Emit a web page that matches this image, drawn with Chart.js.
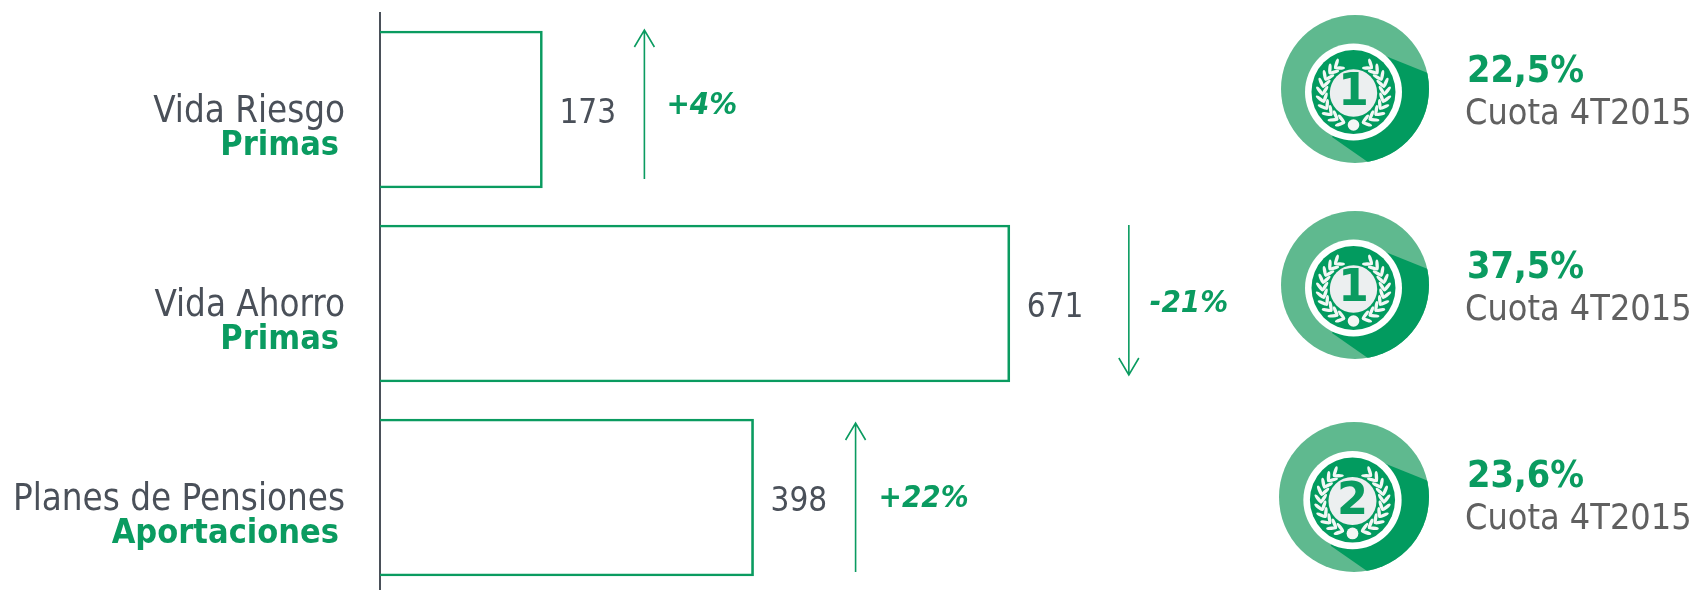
<!DOCTYPE html>
<html><head><meta charset="utf-8">
<style>html,body{margin:0;padding:0;background:#fff;width:1696px;height:590px;overflow:hidden}#w{position:relative;width:1696px;height:600px}</style>
<script src="https://cdn.jsdelivr.net/npm/chart.js@4"></script>
</head><body><div id="w"><canvas id="c"></canvas></div>
<script>
const categories=['Vida Riesgo','Vida Ahorro','Planes de Pensiones'];
const subLabels=['Primas','Primas','Aportaciones'];
const values=[173,671,398];
const changes=['+4%','-21%','+22%'];
const ranks=['1','1','2'];
const shares=['22,5%','37,5%','23,6%'];
const shareNote='Cuota 4T2015';
const GREEN='#0a9b60',DARK='#4a5059',FONT='"DejaVu Sans Condensed","DejaVu Sans"';

function medal(ctx,cx,cy,r,rank){
  const k=r/74;
  ctx.save();ctx.translate(cx,cy);ctx.scale(k,k);
  ctx.beginPath();ctx.arc(0,0,74,0,7);ctx.fillStyle='#5fb98f';ctx.fill();
  ctx.save();ctx.beginPath();ctx.arc(0,0,74,0,7);ctx.clip();
  ctx.beginPath();ctx.moveTo(28,-34);ctx.lineTo(80,-13);ctx.lineTo(90,90);ctx.lineTo(20,78);ctx.lineTo(-23,48);ctx.closePath();
  ctx.fillStyle='#029b5f';ctx.fill();ctx.restore();
  const ox=-1.5,oy=3;
  ctx.beginPath();ctx.arc(ox,oy,48.5,0,7);ctx.fillStyle='#fff';ctx.fill();
  ctx.beginPath();ctx.arc(ox,oy,42,0,7);ctx.fillStyle='#029b5f';ctx.fill();
  ctx.beginPath();ctx.arc(ox,oy+1,23.7,0,7);ctx.fillStyle='#eceff0';ctx.fill();
  ctx.fillStyle='#f3f7f5';
  for(const s of [-1,1]){
    for(let i=0;i<10;i++){
      const a=(Math.PI/2)-s*(0.3+i*0.245),R=31;
      const x=ox+R*Math.cos(a),y=oy+1+R*Math.sin(a);
      for(const d of [-1,1]){
        ctx.save();ctx.translate(x,y);ctx.rotate(a-s*Math.PI/2+d*s*0.62);
        ctx.beginPath();ctx.ellipse(4.5,0,5.4,1.7,0,0,7);ctx.fill();ctx.restore();
      }
    }
  }
  ctx.beginPath();ctx.arc(ox,oy+33,5.8,0,7);ctx.fill();
  ctx.fillStyle=GREEN;ctx.font='bold 44px "DejaVu Sans"';ctx.textAlign='center';ctx.textBaseline='middle';
  ctx.fillText(rank,ox,oy+2);
  ctx.restore();
}

const extras={id:'extras',afterDatasetsDraw(chart){
  const ctx=chart.ctx,y=chart.scales.y,bars=chart.getDatasetMeta(0).data;
  const arrowGap=[102,119,102],arrowTop=[30,225,423],arrowBot=[179,375,572],dirs=[-1,1,-1];
  const pctGap=[124,140,125],pctY=[106,304,499];
  const medalC=[[1355,89,74],[1355,285,74],[1354,497,75]];
  const shareY=[72.5,268.5,477.5],noteY=[114.5,310.5,519.5];
  ctx.save();ctx.textBaseline='middle';
  values.forEach((v,i)=>{
    const cy=y.getPixelForValue(i),end=bars[i].x;
    ctx.textAlign='right';ctx.fillStyle=GREEN;ctx.font='bold 34px '+FONT;
    ctx.fillText(subLabels[i],339,cy+37);
    ctx.textAlign='left';ctx.fillStyle=DARK;ctx.font='33px '+FONT;
    ctx.fillText(String(v),end+17,cy+5);
    const ax=end+arrowGap[i],tip=dirs[i]<0?arrowTop[i]:arrowBot[i],tail=dirs[i]<0?arrowBot[i]:arrowTop[i];
    ctx.strokeStyle=GREEN;ctx.lineWidth=1.6;ctx.beginPath();ctx.moveTo(ax,tail);ctx.lineTo(ax,tip);
    ctx.moveTo(ax-10,tip-dirs[i]*17);ctx.lineTo(ax,tip);ctx.lineTo(ax+10,tip-dirs[i]*17);ctx.stroke();
    ctx.fillStyle=GREEN;ctx.font='italic bold 31px '+FONT;
    ctx.fillText(changes[i],end+pctGap[i],pctY[i]);
    medal(ctx,medalC[i][0],medalC[i][1],medalC[i][2],ranks[i]);
    ctx.fillStyle=GREEN;ctx.font='bold 37.5px '+FONT;
    ctx.fillText(shares[i],1467,shareY[i]);
    ctx.fillStyle='#606060';ctx.font='35.7px '+FONT;
    ctx.fillText(shareNote,1465,noteY[i]);
  });
  ctx.restore();
}};

Chart.defaults.animation=false;
new Chart(document.getElementById('c'),{type:'bar',
  data:{labels:categories,datasets:[{data:values,backgroundColor:'rgba(255,255,255,0)',borderColor:GREEN,borderWidth:2,barThickness:157,borderSkipped:'left'}]},
  plugins:[extras],
  options:{indexAxis:'y',responsive:true,maintainAspectRatio:false,animation:false,
    layout:{padding:{top:12.5,bottom:5.5,left:0,right:0}},
    plugins:{legend:{display:false},tooltip:{enabled:false}},
    scales:{
      x:{min:0,max:1402,display:false},
      y:{afterFit(s){s.width=380;s.paddingTop=0;s.paddingBottom=0},grid:{display:false,drawTicks:false},border:{display:true,color:DARK,width:2},
         ticks:{color:DARK,padding:35,labelOffset:3,font:{family:'"DejaVu Sans Condensed"',size:36.4}}}
    }}});
</script></body></html>
